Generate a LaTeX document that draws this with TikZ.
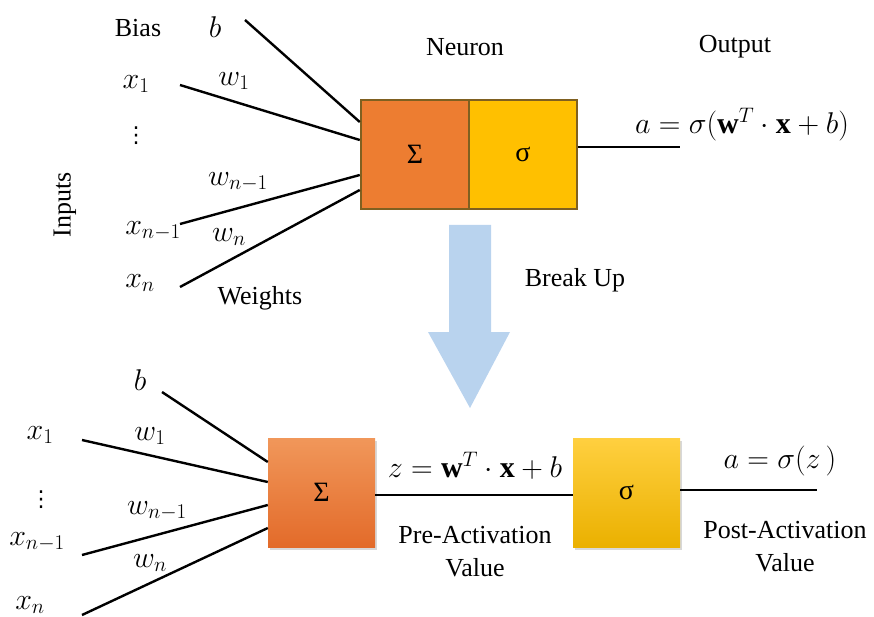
\RequirePackage{fix-cm}
\documentclass[tikz,border=0pt]{standalone}
\usepackage{fontspec}
\setmainfont{Liberation Serif}
\newfontfamily\dvfont{DejaVu Sans}
\usetikzlibrary{shadows,calc}
\definecolor{orng}{HTML}{ED7D31}
\definecolor{gold}{HTML}{FFC000}
\definecolor{bord}{HTML}{7F6020}
\definecolor{arrowblue}{HTML}{B9D3EE}
\begin{document}
\begin{tikzpicture}[x=1pt,y=-1pt,
  lbl/.style={inner sep=0pt,font=\fontsize{26}{30}\selectfont},
  mlbl/.style={inner sep=0pt,font=\fontsize{30}{34}\selectfont},
  dts/.style={inner sep=0pt,font=\dvfont\fontsize{22}{26}\selectfont},
  topbox/.style={draw=bord,line width=2.5pt,minimum width=108pt,minimum height=109pt,inner sep=0pt,font=\fontsize{28}{30}\selectfont},
  botbox/.style={minimum width=107pt,minimum height=109pt,inner sep=0pt,font=\fontsize{28}{30}\selectfont,
     drop shadow={shadow xshift=2pt,shadow yshift=-3pt,fill=black!30}},
  wire/.style={line width=2.4pt,black}]
\useasboundingbox (0,0) rectangle (874,617);
% ---------- top neuron ----------
\node[topbox,fill=orng] (s1) at (415,154.5) {Σ};
\node[topbox,fill=gold] (g1) at (523,154.5) {σ};
\node[lbl] (bias) at (138,28) {Bias};
\node[mlbl] (tb) at (215,27) {$b$};
\node[mlbl] (tx1) at (136,84) {$x_1$};
\node[mlbl] (tw1) at (234,81) {$w_1$};
\node[dts] (tdots) at (136,136) {⋮};
\node[mlbl] (twn1) at (238,182) {$w_{n-1}$};
\node[mlbl] (txn1) at (153,231) {$x_{n-1}$};
\node[mlbl] (twn) at (229,237) {$w_n$};
\node[mlbl] (txn) at (140,283) {$x_n$};
\node[lbl] (weights) at (260,298) {Weights};
\node[lbl,rotate=90] (inputs) at (65,205) {Inputs};
\node[lbl] (neuron) at (465,47) {Neuron};
\node[lbl] (output) at (735,47) {Output};
\node[mlbl] (tform) at (742,125) {$a=\sigma(\mathbf{w}^T\cdot\mathbf{x}+b)$};
\coordinate (pb) at (245,20);
\coordinate (px1) at (180,85);
\coordinate (pxn1) at (180,224);
\coordinate (pxn) at (180,287);
\coordinate (pout) at (680,147);
\draw[wire] (pb) -- ([yshift=32.5pt]s1.west);
\draw[wire] (px1) -- ([yshift=14.5pt]s1.west);
\draw[wire] (pxn1) -- ([yshift=-20.5pt]s1.west);
\draw[wire] (pxn) -- ([yshift=-35.5pt]s1.west);
\draw[wire] (g1.east |- pout) -- (pout);
% ---------- arrow ----------
\fill[arrowblue] (449,225) coordinate (a1) -- (491,225) -- (491,332) -- (510,332) -- (470,408) coordinate (atip) -- (428,332) -- (449,332) -- cycle;
\node[lbl] (breakup) at (575,280) {Break Up};
% ---------- bottom ----------
\node[botbox,top color=orng!80!white,bottom color=orng!90!red!95!black] (s2) at (321.5,492.5) {Σ};
\node[botbox,top color=gold!75!white,bottom color=gold!92!black] (g2) at (626.5,492.5) {σ};
\node[mlbl] (bb) at (140,380) {$b$};
\node[mlbl] (bx1) at (40,435) {$x_1$};
\node[mlbl] (bw1) at (150,436) {$w_1$};
\node[dts] (bdots) at (41,500) {⋮};
\node[mlbl] (bwn1) at (157,511) {$w_{n-1}$};
\node[mlbl] (bxn1) at (37,542) {$x_{n-1}$};
\node[mlbl] (bwn) at (150,563) {$w_n$};
\node[mlbl] (bxn) at (30,605) {$x_n$};
\coordinate (qb) at (162,392);
\coordinate (qx1) at (82,440);
\coordinate (qxn1) at (82,555);
\coordinate (qxn) at (82,615);
\coordinate (qout) at (817,490);
\draw[wire] (qb) -- ([yshift=30.5pt]s2.west);
\draw[wire] (qx1) -- ([yshift=10.5pt]s2.west);
\draw[wire] (qxn1) -- ([yshift=-12.5pt]s2.west);
\draw[wire] (qxn) -- ([yshift=-35.5pt]s2.west);
\draw[wire] (s2.east |- 0,495) -- (g2.west |- 0,495);
\draw[wire] (g2.east |- qout) -- (qout);
\node[mlbl] (zform) at (475,466) {$z=\mathbf{w}^T\cdot\mathbf{x}+b$};
\node[mlbl] (aform) at (780,461) {$a=\sigma(z\,)$};
\node[lbl] (pre) at (475,535) {Pre-Activation};
\node[lbl] (prev) at (475,568) {Value};
\node[lbl] (post) at (785,530) {Post-Activation};
\node[lbl] (postv) at (785,563) {Value};
\end{tikzpicture}
\end{document}
